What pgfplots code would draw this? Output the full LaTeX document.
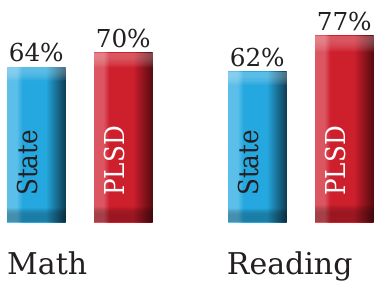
\documentclass[border=0pt]{standalone}
\usepackage{pgfplots}
\pgfplotsset{compat=1.18}
\usetikzlibrary{fadings}
\usepackage{fontspec}
\setmainfont{DejaVu Serif}
\newfontfamily\condfont{DejaVu Serif Condensed}
\definecolor{blueL}{HTML}{5CBFE9}
\definecolor{blueM}{HTML}{25A8DF}
\definecolor{blueD}{HTML}{0E3C53}
\definecolor{redL}{HTML}{DC5661}
\definecolor{redM}{HTML}{CE1F2D}
\definecolor{redD}{HTML}{560A0F}
\definecolor{txt}{HTML}{231F20}
\pgfdeclarehorizontalshading{stateshade}{100bp}{color(0bp)=(blueL); color(25bp)=(blueL); color(33bp)=(blueL); color(38bp)=(blueM); color(58bp)=(blueM); color(75bp)=(blueD); color(100bp)=(blueD)}
\pgfdeclarehorizontalshading{plsdshade}{100bp}{color(0bp)=(redL); color(25bp)=(redL); color(33bp)=(redL); color(38bp)=(redM); color(58bp)=(redM); color(75bp)=(redD); color(100bp)=(redD)}
\pgfdeclareverticalshading{topglowsh}{100bp}{color(0bp)=(pgftransparent); color(70.5bp)=(pgftransparent); color(72.8bp)=(pgftransparent!72); color(74bp)=(pgftransparent!52); color(75bp)=(pgftransparent!50); color(100bp)=(pgftransparent!50)}
\pgfdeclarefading{topglow}{\pgfuseshading{topglowsh}}
\pgfdeclareverticalshading{botshadesh}{100bp}{color(0bp)=(pgftransparent!35); color(25bp)=(pgftransparent!35); color(27.5bp)=(pgftransparent!55); color(29.8bp)=(pgftransparent); color(100bp)=(pgftransparent)}
\pgfdeclarefading{botshade}{\pgfuseshading{botshadesh}}
\tikzset{bevel/.style={postaction={fill=white, path fading=topglow}, postaction={fill=black, path fading=botshade}}}
\begin{document}
\begin{tikzpicture}
\begin{axis}[
  scale only axis, width=374pt, height=282pt,
  xmin=-0.3609, xmax=1.3314, ymin=-24.79, ymax=91.74,
  axis line style={draw=none}, ticks=none,
  clip=false,
  ybar, bar width=58.5pt,
  /pgf/number format/assume math mode=true,
  nodes near coords={\pgfmathprintnumber{\pgfplotspointmeta}\%},
  nodes near coords style={font=\fontsize{24.7}{28}\selectfont, text=txt, anchor=base, inner sep=0pt, yshift=5.5pt},
]
% State
\addplot[draw=none, shading=stateshade, bevel, bar shift=-43.5pt] coordinates {(0,64)};
\addplot[draw=none, shading=stateshade, bevel, bar shift=-43.5pt] coordinates {(1,62)};
% PLSD
\addplot[draw=none, shading=plsdshade, bevel, bar shift=43.5pt] coordinates {(0,70)};
\addplot[draw=none, shading=plsdshade, bevel, bar shift=43.5pt] coordinates {(1,77)};
\node[rotate=90, anchor=base west, inner sep=0pt, text=txt, font=\condfont\fontsize{27.4}{30}\selectfont] at ([xshift=-42.5pt,yshift=26pt]axis cs:0,0) {State};
\node[rotate=90, anchor=base west, inner sep=0pt, text=txt, font=\condfont\fontsize{27.4}{30}\selectfont] at ([xshift=-42.5pt,yshift=26pt]axis cs:1,0) {State};
\node[rotate=90, anchor=base west, inner sep=0pt, text=white, font=\condfont\fontsize{27.4}{30}\selectfont] at ([xshift=44.5pt,yshift=26pt]axis cs:0,0) {PLSD};
\node[rotate=90, anchor=base west, inner sep=0pt, text=white, font=\condfont\fontsize{27.4}{30}\selectfont] at ([xshift=44.5pt,yshift=26pt]axis cs:1,0) {PLSD};
\node[anchor=base west, inner sep=0pt, text=txt, font=\fontsize{30}{34}\selectfont] at ([xshift=-72.75pt,yshift=-52pt]axis cs:0,0) {Math};
\node[anchor=base west, inner sep=0pt, text=txt, font=\fontsize{30}{34}\selectfont] at ([xshift=-74pt,yshift=-52pt]axis cs:1,0) {Reading};
\end{axis}
\end{tikzpicture}
\end{document}
